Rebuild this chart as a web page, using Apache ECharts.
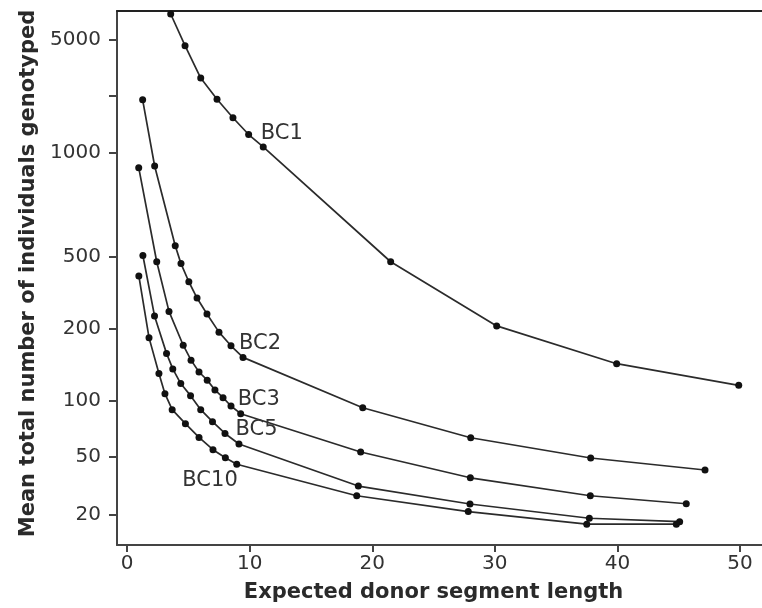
<!DOCTYPE html>
<html>
<head>
<meta charset="utf-8">
<script src="https://cdn.jsdelivr.net/npm/echarts@6/dist/echarts.min.js"></script>
<style>
  html, body { margin: 0; padding: 0; background: #fff; }
  #chart { width: 762px; height: 608px; }
</style>
</head>
<body>
<div id="chart"></div>
<script>
// ---- Data ----
const seriesNames = ['BC1', 'BC2', 'BC3', 'BC5', 'BC10'];

const bc1X = [3.55, 4.72, 6.0, 7.33, 8.63, 9.91, 11.1, 21.5, 30.15, 39.94, 49.9];
const bc1Y = [7260, 4610, 2900, 2140, 1640, 1290, 1080, 469, 208, 143, 116];

const bc2X = [1.26, 2.24, 3.92, 4.39, 5.03, 5.70, 6.51, 7.49, 8.47, 9.45, 19.22, 28.03, 37.82, 47.15];
const bc2Y = [2120, 913, 538, 458, 364, 296, 242, 194, 170, 152, 91.7, 63.4, 49.2, 40.7];

const bc3X = [0.94, 2.41, 3.41, 4.57, 5.21, 5.86, 6.53, 7.16, 7.82, 8.47, 9.26, 19.05, 28.0, 37.79, 45.62];
const bc3Y = [903, 469, 250, 171, 148, 132, 122, 111, 103, 93.7, 85.2, 53.2, 36.0, 27.1, 23.9];

const bc5X = [1.28, 2.23, 3.21, 3.72, 4.37, 5.17, 6.0, 6.96, 7.98, 9.12, 18.86, 27.97, 37.71, 45.08];
const bc5Y = [504, 236, 158, 136, 118, 105, 89.5, 77.2, 66.8, 58.7, 31.6, 23.8, 19.0, 18.0];

const bc10X = [0.95, 1.78, 2.59, 3.08, 3.67, 4.75, 5.86, 7.0, 8.01, 8.94, 18.73, 27.83, 37.5, 44.81];
const bc10Y = [392, 184, 130, 107, 89.5, 75.4, 63.6, 54.7, 49.4, 44.6, 27.1, 21.1, 17.3, 17.3];

const xTickValues = [0, 10, 20, 30, 40, 50];
const yTickValues = [20, 50, 100, 200, 500, 1000, 5000];

// ---- Y scale of the original figure: log-interpolated between labelled ticks,
// with its own (uneven) spacing between consecutive ticks ----
const yTickGaps = [58, 56.3, 71.7, 72.3, 104.4, 112.3];
const yCum = [0];
yTickGaps.forEach((g, i) => yCum.push(yCum[i] + g));

function yScale(v) {
  let i = 0;
  while (i < yTickValues.length - 2 && v > yTickValues[i + 1]) i++;
  const a = yTickValues[i], b = yTickValues[i + 1];
  return yCum[i] + yTickGaps[i] * Math.log(v / a) / Math.log(b / a);
}

const yMinorTick = yScale(Math.sqrt(1000 * 5000)); // unlabelled tick between 1000 and 5000
const yTickPositions = yTickValues.map(yScale);

// ---- Label anchoring (which point carries the series name) ----
const labelIndex = [6, 9, 10, 9, 9];
const labelPlace = [
  { position: 'right', offset: [-6, -13] },
  { position: 'right', offset: [-7.5, -13.5] },
  { position: 'right', offset: [-6.5, -13.7] },
  { position: 'right', offset: [-7, -14.5] },
  { position: 'left',  offset: [4.5, 16] }
];

const xs = [bc1X, bc2X, bc3X, bc5X, bc10X];
const ys = [bc1Y, bc2Y, bc3Y, bc5Y, bc10Y];

const FONT = 'DejaVu Sans';

const series = seriesNames.map((name, s) => ({
  name: name,
  type: 'line',
  xAxisIndex: 0,
  yAxisIndex: 0,
  symbol: 'circle',
  symbolSize: 7,
  smooth: false,
  lineStyle: { color: '#2b2b2b', width: 1.7 },
  itemStyle: { color: '#111' },
  clip: false,
  animation: false,
  data: xs[s].map((x, i) => {
    const item = { value: [x, yScale(ys[s][i])] };
    if (i === labelIndex[s]) {
      item.label = {
        show: true,
        formatter: name,
        position: labelPlace[s].position,
        distance: 0,
        offset: labelPlace[s].offset,
        color: '#333',
        fontFamily: FONT,
        fontSize: 21
      };
    }
    return item;
  })
}));

const chart = echarts.init(document.getElementById('chart'), null, { renderer: 'canvas' });

chart.setOption({
  backgroundColor: '#fff',
  animation: false,
  grid: { left: 117, right: 0, top: 11, bottom: 63, containLabel: false },
  xAxis: [
    {
      type: 'value',
      position: 'bottom',
      min: -0.832,
      max: 51.8,
      name: 'Expected donor segment length',
      nameLocation: 'middle',
      nameGap: 37,
      nameTextStyle: { fontFamily: FONT, fontWeight: 'bold', fontSize: 21, color: '#2a2a2a', padding: [0, 12, 0, 0] },
      axisLine: { show: true, onZero: false, lineStyle: { color: '#444', width: 2 } },
      axisTick: { show: true, customValues: xTickValues, length: 7, inside: false, lineStyle: { color: '#444', width: 2 } },
      axisLabel: {
        customValues: xTickValues,
        margin: 9,
        fontFamily: FONT, fontSize: 20, color: '#333'
      },
      splitLine: { show: false }
    },
    {
      type: 'value',
      position: 'top',
      min: -0.832,
      max: 51.8,
      axisLine: { show: true, onZero: false, lineStyle: { color: '#222', width: 2 } },
      axisTick: { show: false },
      axisLabel: { show: false },
      splitLine: { show: false }
    }
  ],
  yAxis: {
    type: 'value',
    min: -30,
    max: 504,
    name: 'Mean total number of individuals genotyped',
    nameLocation: 'middle',
    nameGap: 75,
    nameRotate: 90,
    nameTextStyle: { fontFamily: FONT, fontWeight: 'bold', fontSize: 21, color: '#2a2a2a', padding: [0, 0, 0, 9] },
    axisLine: { show: true, onZero: false, lineStyle: { color: '#444', width: 2 } },
    axisTick: { show: true, customValues: yTickPositions.concat([yMinorTick]), length: 8, lineStyle: { color: '#444', width: 2 } },
    axisLabel: {
      customValues: yTickPositions,
      margin: 16,
      fontFamily: FONT, fontSize: 20, color: '#333',
      formatter: function (u) {
        for (let i = 0; i < yTickPositions.length; i++) {
          if (Math.abs(yTickPositions[i] - u) < 0.01) return String(yTickValues[i]);
        }
        return '';
      }
    },
    splitLine: { show: false }
  },
  series: series
});
</script>
</body>
</html>
